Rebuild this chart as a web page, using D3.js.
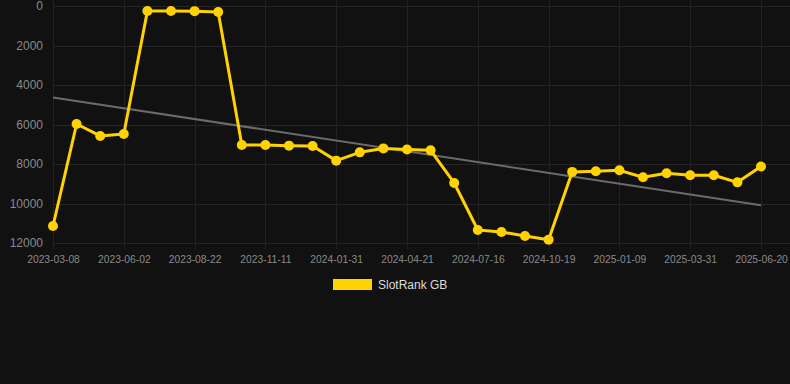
<!DOCTYPE html>
<html>
<head>
<meta charset="utf-8">
<script src="https://cdn.jsdelivr.net/npm/d3@7"></script>
<style>
  html, body { margin: 0; padding: 0; background: #111111; }
  svg { display: block; font-family: "Liberation Sans", Arial, sans-serif; }
</style>
</head>
<body>
<div id="chart"></div>
<script>
// categories (one per sample) - only every third one is labelled on the axis
var dates = [
  "2023-03-08", "2023-04-05", "2023-05-05", "2023-06-02", "2023-06-29", "2023-07-26",
  "2023-08-22", "2023-09-18", "2023-10-15", "2023-11-11", "2023-12-08", "2024-01-04",
  "2024-01-31", "2024-02-27", "2024-03-25", "2024-04-21", "2024-05-19", "2024-06-17",
  "2024-07-16", "2024-08-16", "2024-09-17", "2024-10-19", "2024-11-15", "2024-12-12",
  "2025-01-09", "2025-02-05", "2025-03-04", "2025-03-31", "2025-04-27", "2025-05-24",
  "2025-06-20"
];
var rankGB = [
  11140, 5975, 6580, 6480, 250, 250,
  260, 300, 7040, 7040, 7070, 7090,
  7830, 7410, 7210, 7270, 7310, 8960,
  11340, 11440, 11650, 11830, 8400, 8370,
  8320, 8670, 8470, 8570, 8570, 8930,
  8130
];
var yTicks = [0, 2000, 4000, 6000, 8000, 10000, 12000];
var seriesName = "SlotRank GB";

var width = 790, height = 384;
var plotLeft = 53, plotRight = 761, plotTop = 6, plotBottom = 243, gridRight = 790;

var svg = d3.select("#chart")
  .append("svg")
    .attr("width", width)
    .attr("height", height);

svg.append("rect").attr("width", width).attr("height", height).attr("fill", "#111111");

var x = d3.scalePoint()
  .domain(dates)
  .range([plotLeft, plotRight]);

var y = d3.scaleLinear()
  .domain([0, 12000])
  .range([plotTop, plotBottom]);

var shown = dates.filter(function(d, i) { return i % 3 === 0; });

// grid
svg.append("g")
  .selectAll("line")
  .data(yTicks)
  .enter().append("line")
    .attr("x1", plotLeft).attr("x2", gridRight)
    .attr("y1", function(d) { return Math.round(y(d)) + 0.5; })
    .attr("y2", function(d) { return Math.round(y(d)) + 0.5; })
    .attr("stroke", "#262626").attr("stroke-width", 1);

svg.append("g")
  .selectAll("line")
  .data(shown)
  .enter().append("line")
    .attr("x1", function(d) { return Math.round(x(d)) + 0.5; })
    .attr("x2", function(d) { return Math.round(x(d)) + 0.5; })
    .attr("y1", 0).attr("y2", plotBottom + 6)
    .attr("stroke", "#222222").attr("stroke-width", 1);

// axes
var yAxis = svg.append("g")
  .attr("transform", "translate(" + (plotLeft - 10) + ",0)")
  .call(d3.axisLeft(y).tickValues(yTicks).tickFormat(d3.format("d")).tickSize(0).tickPadding(0));
yAxis.select(".domain").remove();
yAxis.selectAll("text")
  .attr("fill", "#8a8a8a")
  .style("font-size", "12px");

var xAxis = svg.append("g")
  .attr("transform", "translate(0," + (plotBottom + 8) + ")")
  .call(d3.axisBottom(x).tickValues(shown).tickSize(0).tickPadding(5));
xAxis.select(".domain").remove();
xAxis.selectAll("text")
  .attr("fill", "#8a8a8a")
  .style("font-size", "10.3px");

// trend line (least squares over the series)
var n = rankGB.length;
var mx = d3.mean(d3.range(n)), my = d3.mean(rankGB);
var sxy = d3.sum(rankGB, function(v, i) { return (i - mx) * (v - my); });
var sxx = d3.sum(d3.range(n), function(i) { return (i - mx) * (i - mx); });
var slope = sxy / sxx, icept = my - slope * mx;

svg.append("line")
  .attr("x1", x(dates[0])).attr("y1", y(icept))
  .attr("x2", x(dates[n - 1])).attr("y2", y(icept + slope * (n - 1)))
  .attr("stroke", "#6b6b6b")
  .attr("stroke-width", 2);

// series line
var line = d3.line()
  .x(function(d, i) { return x(dates[i]); })
  .y(function(d) { return y(d); });

svg.append("path")
  .datum(rankGB)
  .attr("d", line)
  .attr("fill", "none")
  .attr("stroke", "#FFD200")
  .attr("stroke-width", 3)
  .attr("stroke-linejoin", "round");

svg.append("g")
  .selectAll("circle")
  .data(rankGB)
  .enter().append("circle")
    .attr("cx", function(d, i) { return x(dates[i]); })
    .attr("cy", function(d) { return y(d); })
    .attr("r", 5)
    .attr("fill", "#FFD200");

// legend
var legend = svg.append("g").attr("transform", "translate(333,279)");
legend.append("rect")
  .attr("width", 39).attr("height", 11)
  .attr("fill", "#FFD200");
legend.append("text")
  .attr("x", 45).attr("y", 10)
  .attr("fill", "#dddddd")
  .style("font-size", "12px")
  .text(seriesName);
</script>
</body>
</html>
